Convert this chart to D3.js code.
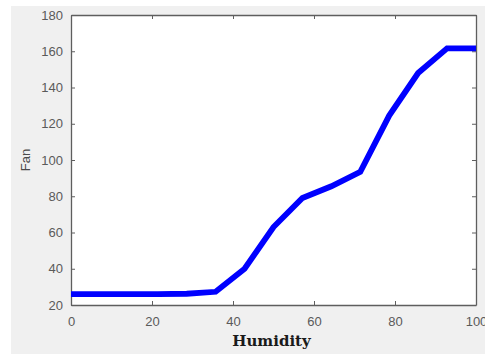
<!DOCTYPE html>
<meta charset="utf-8">
<script src="https://d3js.org/d3.v7.min.js"></script>
<style>
  body { margin: 0; background: #fff; }
  .tick text { font: 13px "Liberation Sans", Arial, sans-serif; fill: #5a5a5a; }
</style>
<div id="my_dataviz"></div>
<script>
// humidity values (x) and fan output (y)
var humidity = [0, 7.14, 14.29, 21.43, 28.57, 35.71, 42.86, 50, 57.14, 64.29, 71.43, 78.57, 85.71, 92.86, 100];
var fan = [26, 26, 26, 26, 26.2, 27.3, 40, 63, 79, 85.5, 93.5, 124.5, 148, 161.6, 161.6];
var xTicks = [0, 20, 40, 60, 80, 100];
var yTicks = [20, 40, 60, 80, 100, 120, 140, 160, 180];

var W = 485, H = 354;
var margin = {top: 15, right: 9, bottom: 49, left: 71},
    width = W - margin.left - margin.right,
    height = H - margin.top - margin.bottom;

var root = d3.select("#my_dataviz")
  .append("svg")
    .attr("width", W)
    .attr("height", H);

// figure background
root.append("rect")
    .attr("x", 11).attr("y", 6)
    .attr("width", W - 11).attr("height", H - 6)
    .attr("fill", "#f0f0f0");

var svg = root.append("g")
    .attr("transform", "translate(" + margin.left + "," + margin.top + ")");

svg.append("rect")
    .attr("width", width).attr("height", height)
    .attr("fill", "#fff");

var x = d3.scaleLinear().domain([0, 100]).range([0, width]);
var y = d3.scaleLinear().domain([20, 180]).range([height, 0]);

// axes (box with ticks on all sides, MATLAB style)
var axisColor = "#5e5e5e";
function styleAxis(g) {
  g.select(".domain").attr("stroke", axisColor).attr("stroke-width", 1.3);
  g.selectAll(".tick line").attr("stroke", axisColor);
}

svg.append("g")
    .attr("transform", "translate(0," + height + ")")
    .call(d3.axisBottom(x).tickValues(xTicks).tickSizeInner(-4).tickSizeOuter(0).tickPadding(12))
    .call(styleAxis);
svg.append("g")
    .call(d3.axisTop(x).tickValues(xTicks).tickSizeInner(-4).tickSizeOuter(0).tickFormat(""))
    .call(styleAxis);
svg.append("g")
    .call(d3.axisLeft(y).tickValues(yTicks).tickSizeInner(-4).tickSizeOuter(0).tickPadding(8))
    .call(styleAxis);
svg.append("g")
    .attr("transform", "translate(" + width + ",0)")
    .call(d3.axisRight(y).tickValues(yTicks).tickSizeInner(-4).tickSizeOuter(0).tickFormat(""))
    .call(styleAxis);

// the line
var line = d3.line()
    .x((d, i) => x(humidity[i]))
    .y(d => y(d));

svg.append("path")
    .datum(fan)
    .attr("d", line)
    .attr("fill", "none")
    .attr("stroke", "#0000ff")
    .attr("stroke-width", 5.8)
    .attr("stroke-linejoin", "miter");

// labels
svg.append("text")
    .attr("transform", "translate(" + (-41) + "," + (height / 2) + ") rotate(-90)")
    .attr("text-anchor", "middle")
    .attr("font-family", "'Liberation Sans', Arial, sans-serif")
    .attr("font-size", "13px")
    .attr("fill", "#4a4a4a")
    .text("Fan");

svg.append("text")
    .attr("x", width / 2 - 2)
    .attr("y", height + 41)
    .attr("text-anchor", "middle")
    .attr("font-family", "'DejaVu Serif', 'Liberation Serif', serif")
    .attr("font-weight", "bold")
    .attr("font-size", "15px")
    .attr("fill", "#1a1a1a")
    .text("Humidity");
</script>
